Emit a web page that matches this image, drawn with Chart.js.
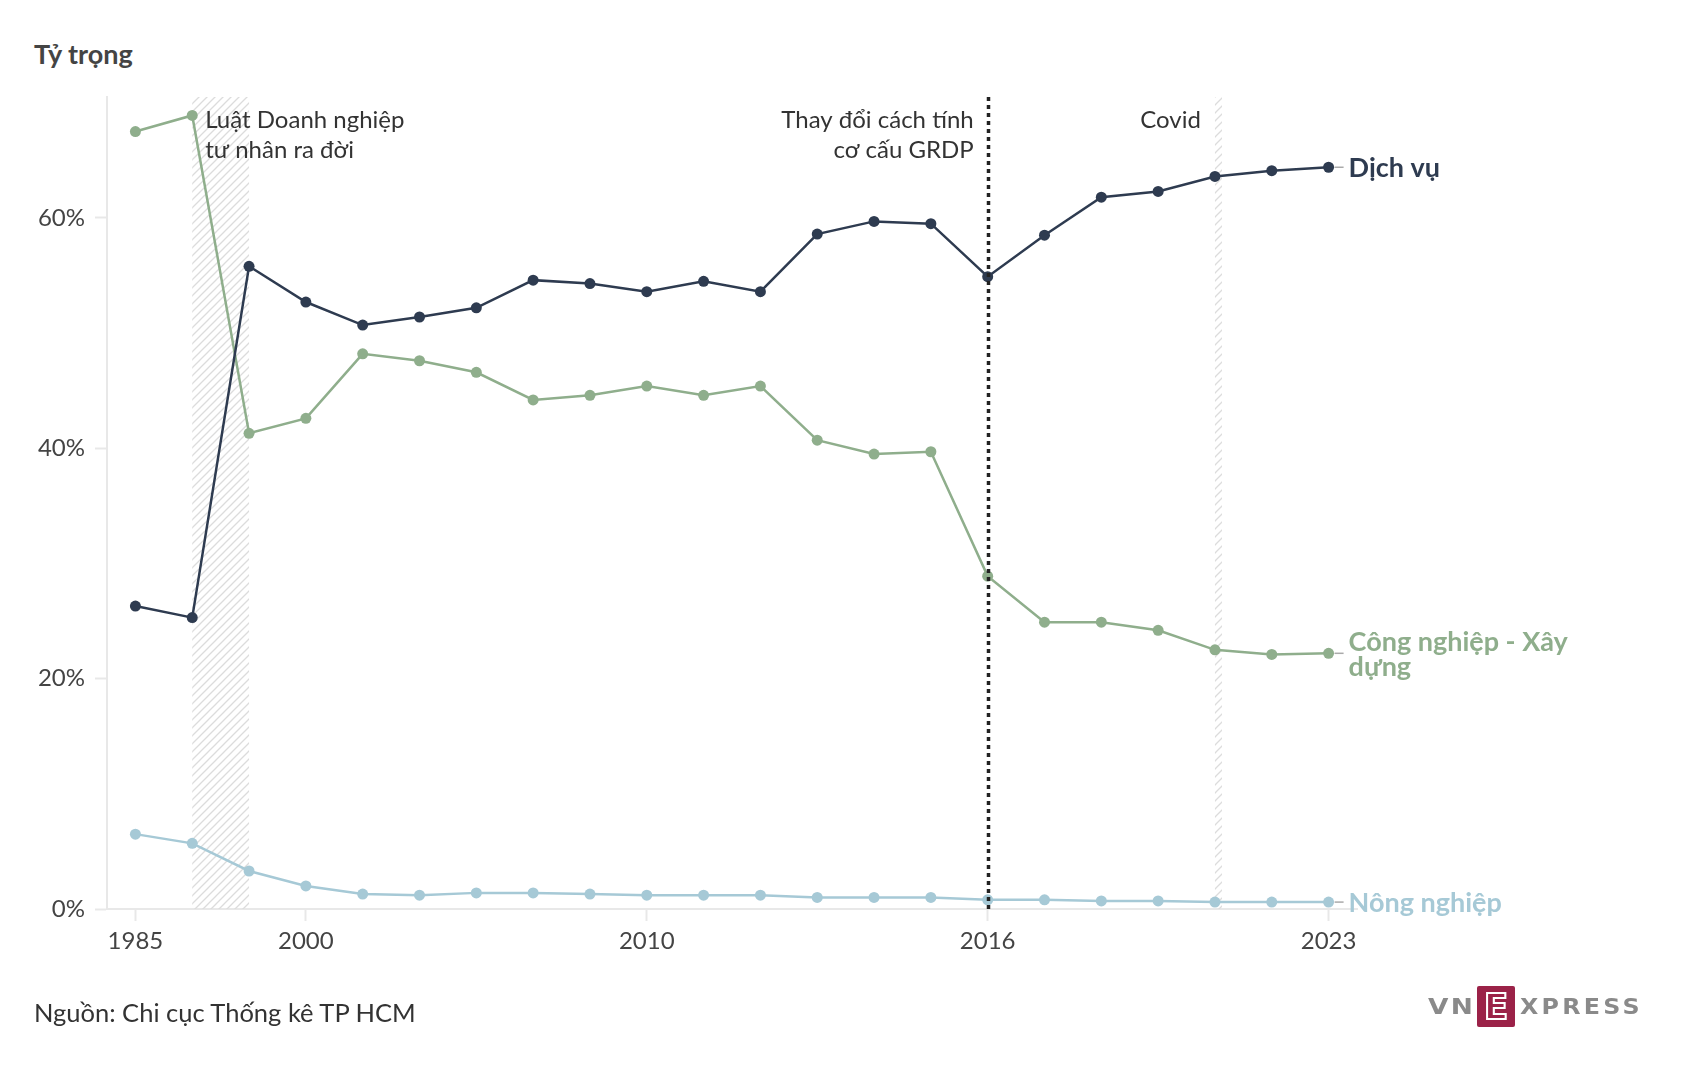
<!DOCTYPE html>
<html lang="vi">
<head>
<meta charset="utf-8">
<title>Tỷ trọng</title>
<script src="https://cdn.jsdelivr.net/npm/chart.js@4.4.1/dist/chart.umd.min.js"></script>
<style>
  html, body { margin: 0; padding: 0; background: #fff; }
  body { width: 1682px; height: 1086px; position: relative; overflow: hidden;
         font-family: "Lato", "Noto Sans", sans-serif; color: #333; }
  #wrap { position: absolute; left: 0; top: 0; width: 1682px; height: 1086px; }
  .title { position: absolute; left: 34px; top: 37px; font-size: 27px; font-weight: 700; color: #444; }
  .source { position: absolute; left: 34px; top: 997px; font-size: 25.5px; color: #333; }
  .logo span { position: absolute; font-family: "DejaVu Sans", sans-serif; font-weight: 700; font-size: 22px;
               color: #8a8a8a; line-height: 22px; top: 996px; transform-origin: left center; white-space: nowrap; }
  .logo .vn { left: 1428px; letter-spacing: 2px; transform: scaleX(1.2); }
  .logo .xp { left: 1520px; letter-spacing: 3px; transform: scaleX(1.08); }
  .logo .e { left: 1477px; top: 986px; width: 38px; height: 41px; line-height: 41px; text-align: center;
             background: #9b2248; color: #9b2248; -webkit-text-stroke: 2px #fff;
             font-size: 36px; border-radius: 2px; transform: none; letter-spacing: 0; }
</style>
</head>
<body>
<div class="title">Tỷ trọng</div>
<div id="wrap"><canvas id="shareChart"></canvas></div>
<div class="source">Nguồn: Chi cục Thống kê TP HCM</div>
<div class="logo"><span class="vn">VN</span><span class="e">E</span><span class="xp">XPRESS</span></div>

<script>
// Data (share of GRDP, %)
const years = ['1985', '1990', '1995', '2000', '2002', '2004', '2005', '2006', '2008', '2010',
  '2011', '2012', '2013', '2014', '2015', '2016', '2017', '2018', '2019', '2020', '2022', '2023'];
const shownYears = ['1985', '2000', '2010', '2016', '2023'];
const dichVu = [26.3, 25.3, 55.8, 52.7, 50.7, 51.4, 52.2, 54.6, 54.3, 53.6, 54.5, 53.6, 58.6, 59.7, 59.5, 54.9, 58.5, 61.8, 62.3, 63.6, 64.1, 64.4];
const congNghiep = [67.5, 68.9, 41.3, 42.6, 48.2, 47.6, 46.6, 44.2, 44.6, 45.4, 44.6, 45.4, 40.7, 39.5, 39.7, 28.9, 24.9, 24.9, 24.2, 22.5, 22.1, 22.2];
const nongNghiep = [6.5, 5.7, 3.3, 2.0, 1.3, 1.2, 1.4, 1.4, 1.3, 1.2, 1.2, 1.2, 1.0, 1.0, 1.0, 0.8, 0.8, 0.7, 0.7, 0.6, 0.6, 0.6];
const yTicks = [0, 20, 40, 60];

const seriesNames = [['Dịch vụ'], ['Công nghiệp - Xây', 'dựng'], ['Nông nghiệp']];
const notes = [
  { year: '1990', lines: ['Luật Doanh nghiệp', 'tư nhân ra đời'], side: 'right' },
  { year: '2016', lines: ['Thay đổi cách tính', 'cơ cấu GRDP'], side: 'left' },
  { year: '2020', lines: ['Covid'], side: 'left' }
];

const FONT = '"Lato", "Noto Sans", sans-serif';
const NAVY = '#2e3b50';
const GREEN = '#8fae8c';
const BLUE = '#a6c9d6';

function hatchPattern(ctx) {
  const c = document.createElement('canvas');
  c.width = 8; c.height = 8;
  const p = c.getContext('2d');
  p.strokeStyle = '#dcdcdc';
  p.lineWidth = 1.3;
  p.beginPath();
  p.moveTo(0, 8); p.lineTo(8, 0);
  p.moveTo(-4, 4); p.lineTo(4, -4);
  p.moveTo(4, 12); p.lineTo(12, 4);
  p.stroke();
  return ctx.createPattern(c, 'repeat');
}

// hatched bands + dotted reference line
const markers = {
  id: 'markers',
  beforeDatasetsDraw(chart) {
    const { ctx, chartArea: a, scales: { x } } = chart;
    ctx.save();
    ctx.fillStyle = hatchPattern(ctx);
    const x1 = x.getPixelForValue(years.indexOf('1990'));
    const x2 = x.getPixelForValue(years.indexOf('1995'));
    ctx.fillRect(x1, a.top, x2 - x1, a.bottom - a.top);
    const xc = x.getPixelForValue(years.indexOf('2020'));
    ctx.fillRect(xc, a.top, 7, a.bottom - a.top);
    ctx.restore();
  },
  afterDatasetsDraw(chart) {
    const { ctx, chartArea: a, scales: { x } } = chart;
    const xd = Math.round(x.getPixelForValue(years.indexOf('2016'))) + 0.5;
    ctx.save();
    ctx.strokeStyle = '#222';
    ctx.lineWidth = 3.5;
    ctx.setLineDash([4, 4]);
    ctx.beginPath();
    ctx.moveTo(xd, a.top);
    ctx.lineTo(xd, a.bottom);
    ctx.stroke();
    ctx.restore();
  }
};

// annotation texts and series names at line ends
const labels = {
  id: 'labels',
  afterDraw(chart) {
    const { ctx, chartArea: a, scales: { x } } = chart;
    ctx.save();
    ctx.font = '24px ' + FONT;
    ctx.fillStyle = '#333';
    ctx.textBaseline = 'middle';
    notes.forEach(n => {
      const px = x.getPixelForValue(years.indexOf(n.year));
      ctx.textAlign = n.side === 'right' ? 'left' : 'right';
      const tx = n.side === 'right' ? px + 13 : px - 14;
      n.lines.forEach((t, i) => ctx.fillText(t, tx, a.top + 23 + i * 30));
    });

    ctx.font = 'bold 27px ' + FONT;
    ctx.textAlign = 'left';
    chart.data.datasets.forEach((ds, i) => {
      const meta = chart.getDatasetMeta(i);
      const pt = meta.data[meta.data.length - 1];
      ctx.strokeStyle = '#aaa';
      ctx.lineWidth = 1.5;
      ctx.beginPath();
      ctx.moveTo(pt.x + 6, pt.y);
      ctx.lineTo(pt.x + 15, pt.y);
      ctx.stroke();
      ctx.fillStyle = ds.borderColor;
      const lines = seriesNames[i];
      const y0 = pt.y + 1 - (lines.length - 1) * 12.5;
      lines.forEach((t, k) => ctx.fillText(t, pt.x + 20, y0 + k * 25));
    });
    ctx.restore();
  }
};

function line(data, color) {
  return {
    data: data,
    borderColor: color,
    backgroundColor: color,
    pointBackgroundColor: color,
    pointBorderWidth: 0,
    pointRadius: 5.5,
    borderWidth: 2.5,
    tension: 0,
    fill: false
  };
}

const ctx = document.getElementById('shareChart').getContext('2d');
const shareChart = new Chart(ctx, {
  type: 'line',
  data: {
    labels: years,
    datasets: [line(dichVu, NAVY), line(congNghiep, GREEN), line(nongNghiep, BLUE)]
  },
  options: {
    responsive: true,
    maintainAspectRatio: false,
    animation: false,
    layout: { padding: { left: 0, top: 97, right: 325, bottom: 117 } },
    plugins: { legend: { display: false }, tooltip: { enabled: false } },
    scales: {
      x: {
        type: 'category',
        offset: true,
        afterFit(scale) { scale.height = 60; },
        border: { color: '#e8e8e8', width: 2 },
        grid: {
          drawOnChartArea: false,
          drawTicks: true,
          tickLength: 12,
          tickWidth: 2,
          tickColor: c => shownYears.includes(years[c.index]) ? '#e8e8e8' : 'rgba(0,0,0,0)',
          offset: false
        },
        ticks: {
          autoSkip: false,
          maxRotation: 0,
          padding: 6,
          color: '#444',
          font: { family: FONT, size: 24 },
          callback: (v, i) => shownYears.includes(years[i]) ? years[i] : ''
        }
      },
      y: {
        min: 0,
        max: 70.5,
        afterFit(scale) { scale.width = 107; },
        afterBuildTicks(scale) { scale.ticks = yTicks.map(v => ({ value: v })); },
        border: { color: '#e8e8e8', width: 2 },
        grid: { drawOnChartArea: false, drawTicks: true, tickLength: 12, tickWidth: 2, tickColor: '#e8e8e8' },
        ticks: {
          padding: 10,
          color: '#444',
          font: { family: FONT, size: 24 },
          callback: v => v + '%'
        }
      }
    }
  },
  plugins: [markers, labels]
});
</script>
</body>
</html>
